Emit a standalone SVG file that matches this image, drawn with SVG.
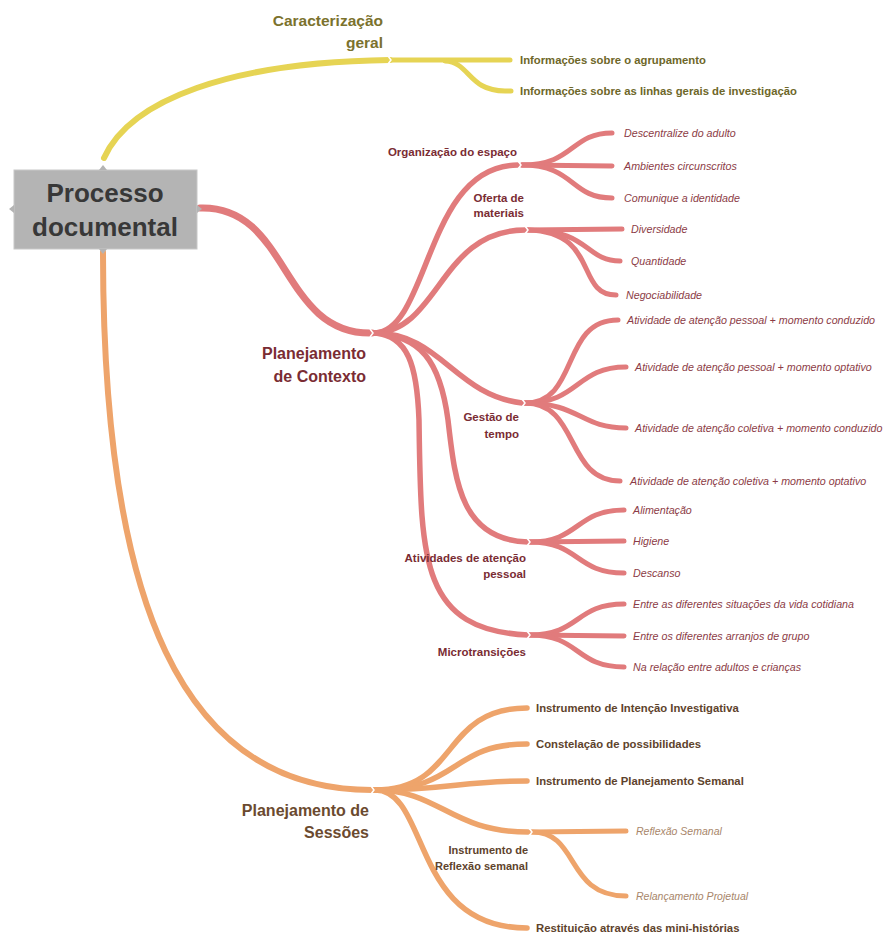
<svg xmlns="http://www.w3.org/2000/svg" width="883" height="933" viewBox="0 0 883 933">
<style>
text{font-family:"Liberation Sans",Arial,sans-serif}
.y{fill:none;stroke:#e6d454;stroke-linecap:round}
.r{fill:none;stroke:#e17b7c;stroke-linecap:round}
.o{fill:none;stroke:#eea46b;stroke-linecap:round}
.chev{fill:none;stroke:#fff;stroke-width:1.5}
.yl{font-size:11.3px;font-weight:bold;fill:#6e6729}
.yt{font-size:15.5px;font-weight:bold;fill:#7b722d;text-anchor:end}
.rt{font-size:16px;font-weight:bold;fill:#7a2c33;text-anchor:end}
.rs{font-size:11.5px;font-weight:bold;fill:#7a2c33;text-anchor:end}
.rl{font-size:10.7px;font-style:italic;fill:#8c3c46}
.ot{font-size:16px;font-weight:bold;fill:#6b4a2f;text-anchor:end}
.os{font-size:11px;font-weight:bold;fill:#5e432c;text-anchor:end}
.ol{font-size:11.3px;font-weight:bold;fill:#5e432c}
.oi{font-size:10.5px;font-style:italic;fill:#a8866a}
</style>
<rect width="883" height="933" fill="#fff"/>
<g id="connectors">
<path class="y" stroke-width="6" d="M104,158 C130,100 230,62 390,60"/>
<path class="y" stroke-width="5" d="M392,60 L510,60"/>
<path class="y" stroke-width="5" d="M445,61 C470,62 468,91 505,91 L511,91"/>
<path class="r" stroke-width="7" d="M200,208 C290,205 280,335 372,333"/>
<path class="r" stroke-width="5.5" d="M375,333 C430,330 425,165 518,165"/>
<path class="r" stroke-width="5.5" d="M375,333 C440,330 440,230 525,230"/>
<path class="r" stroke-width="5.5" d="M375,333 C440,333 455,395 522,403"/>
<path class="r" stroke-width="5.5" d="M375,333 C420,336 440,360 448,420 C455,480 460,540 528,542"/>
<path class="r" stroke-width="5.5" d="M375,333 C408,336 417,365 419,420 C421,560 420,630 528,635"/>
<path class="r" stroke-width="5" d="M522,165 C575,165 570,133 612,133"/>
<path class="r" stroke-width="5" d="M522,165 L612,166"/>
<path class="r" stroke-width="5" d="M522,165 C575,165 570,198 612,198"/>
<path class="r" stroke-width="5" d="M528,230 L622,229"/>
<path class="r" stroke-width="5" d="M528,230 C590,230 585,261 620,261"/>
<path class="r" stroke-width="5" d="M528,230 C600,232 575,295 616,295"/>
<path class="r" stroke-width="5" d="M525,403 C580,403 560,320 618,320"/>
<path class="r" stroke-width="5" d="M525,403 C580,403 575,367 626,367"/>
<path class="r" stroke-width="5" d="M525,403 C580,403 580,428 626,428"/>
<path class="r" stroke-width="5" d="M525,403 C580,403 565,481 620,481"/>
<path class="r" stroke-width="5" d="M530,542 C580,542 575,510 624,510"/>
<path class="r" stroke-width="5" d="M530,542 L624,541"/>
<path class="r" stroke-width="5" d="M530,542 C580,542 575,573 624,573"/>
<path class="r" stroke-width="5" d="M530,635 C580,635 575,604 624,604"/>
<path class="r" stroke-width="5" d="M530,635 L624,636"/>
<path class="r" stroke-width="5" d="M530,635 C580,635 575,667 624,667"/>
<path class="o" stroke-width="6" d="M103,252 C103,600 180,790 372,790"/>
<path class="o" stroke-width="5.5" d="M375,790 C460,790 440,708 527,708"/>
<path class="o" stroke-width="5.5" d="M375,790 C460,790 450,744 527,744"/>
<path class="o" stroke-width="5.5" d="M375,790 C450,790 460,781 527,781"/>
<path class="o" stroke-width="5.5" d="M375,790 C440,790 450,832 528,832"/>
<path class="o" stroke-width="5.5" d="M375,790 C430,790 410,928 527,928"/>
<path class="o" stroke-width="5" d="M532,832 L626,831"/>
<path class="o" stroke-width="5" d="M532,832 C580,832 565,896 626,896"/>
<polyline class="chev" points="388,56 391,60 388,64"/>
<polyline class="chev" points="370,329 373,333 370,337"/>
<polyline class="chev" points="518,161 521,165 518,169"/>
<polyline class="chev" points="525,226 528,230 525,234"/>
<polyline class="chev" points="522,399 525,403 522,407"/>
<polyline class="chev" points="527,538 530,542 527,546"/>
<polyline class="chev" points="527,631 530,635 527,639"/>
<polyline class="chev" points="371,786 374,790 371,794"/>
<polyline class="chev" points="529,828 532,832 529,836"/>
</g>
<g id="node-processo">
<rect x="14" y="170" width="183" height="79" fill="#b4b4b4" stroke="#c8c8c8" stroke-width="1"/>
<polygon points="197,205 202,209 197,213" fill="#b4b4b4"/>
<polygon points="14,205 9,209 14,213" fill="#b4b4b4"/>
<polygon points="99,170 103,165 107,170" fill="#b4b4b4"/>
<polygon points="99,249 103,254 107,249" fill="#b4b4b4"/>
<text x="105" y="202" text-anchor="middle" font-size="26" font-weight="bold" fill="#383838">Processo</text>
<text x="105" y="236" text-anchor="middle" font-size="26" font-weight="bold" fill="#383838">documental</text>
</g>
<g id="node-caracterizacao">
<text class="yt" x="383" y="26">Caracterização</text>
<text class="yt" x="383" y="48">geral</text>
</g>
<g id="leaf-agrupamento"><text class="yl" x="520" y="64">Informações sobre o agrupamento</text></g>
<g id="leaf-linhas"><text class="yl" x="520" y="95">Informações sobre as linhas gerais de investigação</text></g>
<g id="node-contexto">
<text class="rt" x="366" y="359">Planejamento</text>
<text class="rt" x="366" y="382">de Contexto</text>
</g>
<g id="node-organizacao"><text class="rs" x="517" y="156">Organização do espaço</text></g>
<g id="node-oferta"><text class="rs" x="524" y="202">Oferta de</text><text class="rs" x="524" y="217">materiais</text></g>
<g id="node-gestao"><text class="rs" x="519" y="421">Gestão de</text><text class="rs" x="519" y="438">tempo</text></g>
<g id="node-atividades"><text class="rs" x="526" y="562">Atividades de atenção</text><text class="rs" x="526" y="578">pessoal</text></g>
<g id="node-micro"><text class="rs" x="526" y="656">Microtransições</text></g>
<g id="leaves-red">
<text class="rl" x="624" y="137">Descentralize do adulto</text>
<text class="rl" x="624" y="170">Ambientes circunscritos</text>
<text class="rl" x="624" y="202">Comunique a identidade</text>
<text class="rl" x="631" y="233">Diversidade</text>
<text class="rl" x="631" y="265">Quantidade</text>
<text class="rl" x="626" y="299">Negociabilidade</text>
<text class="rl" x="627" y="324">Atividade de atenção pessoal + momento conduzido</text>
<text class="rl" x="635" y="371">Atividade de atenção pessoal + momento optativo</text>
<text class="rl" x="635" y="432">Atividade de atenção coletiva + momento conduzido</text>
<text class="rl" x="630" y="485">Atividade de atenção coletiva + momento optativo</text>
<text class="rl" x="633" y="514">Alimentação</text>
<text class="rl" x="633" y="545">Higiene</text>
<text class="rl" x="633" y="577">Descanso</text>
<text class="rl" x="633" y="608">Entre as diferentes situações da vida cotidiana</text>
<text class="rl" x="633" y="640">Entre os diferentes arranjos de grupo</text>
<text class="rl" x="633" y="671">Na relação entre adultos e crianças</text>
</g>
<g id="node-sessoes">
<text class="ot" x="369" y="816">Planejamento de</text>
<text class="ot" x="369" y="838">Sessões</text>
</g>
<g id="node-reflexao"><text class="os" x="528" y="854">Instrumento de</text><text class="os" x="528" y="870">Reflexão semanal</text></g>
<g id="leaves-orange">
<text class="ol" x="536" y="712">Instrumento de Intenção Investigativa</text>
<text class="ol" x="536" y="748">Constelação de possibilidades</text>
<text class="ol" x="536" y="785">Instrumento de Planejamento Semanal</text>
<text class="ol" x="536" y="932">Restituição através das mini-histórias</text>
<text class="oi" x="636" y="835">Reflexão Semanal</text>
<text class="oi" x="636" y="900">Relançamento Projetual</text>
</g>
</svg>
